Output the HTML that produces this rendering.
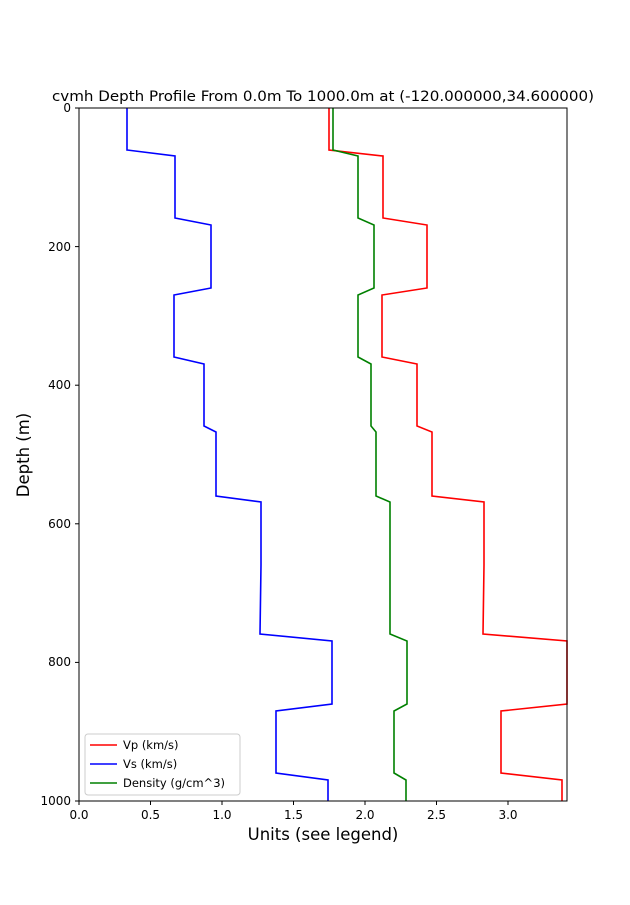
<!DOCTYPE html>
<html><head><meta charset="utf-8"><style>body{margin:0;background:#fff}</style></head><body>
<svg width="630" height="900" xmlns="http://www.w3.org/2000/svg" font-family="DejaVu Sans, Liberation Sans, sans-serif">
<rect width="630" height="900" fill="#fff"/>
<text x="323" y="101" font-size="14.5" text-anchor="middle" textLength="542" lengthAdjust="spacingAndGlyphs">cvmh Depth Profile From 0.0m To 1000.0m at (-120.000000,34.600000)</text>
<g fill="none" stroke-width="1.6">
<polyline stroke="#0000ff" points="127,108 127,150 175,156 175,218 211,225 211,288 174,295 174,357 204,364 204,426 216,432 216,496 261,502 261,565 260,634 332,641 332,704 276,711 276,773 328,780 328,801"/>
<polyline stroke="#ff0000" points="329,108 329,150 383,156 383,218 427,225 427,288 382,295 382,357 417,364 417,426 432,432 432,496 484,502 484,565 483,634 567,641 567,704 501,711 501,773 562,780 562,801"/>
<polyline stroke="#008000" points="333,108 333,150 358,156 358,218 374,225 374,288 358,295 358,357 371,364 371,426 376,432 376,496 390,502 390,634 407,641 407,704 394,711 394,773 406,780 406,801"/>
</g>
<rect x="79" y="108" width="488" height="693" fill="none" stroke="#000" stroke-width="1"/>
<g stroke="#000" stroke-width="1">
<line x1="79" y1="801" x2="79" y2="805"/><line x1="150.5" y1="801" x2="150.5" y2="805"/><line x1="222" y1="801" x2="222" y2="805"/><line x1="293.5" y1="801" x2="293.5" y2="805"/><line x1="365" y1="801" x2="365" y2="805"/><line x1="436.5" y1="801" x2="436.5" y2="805"/><line x1="508" y1="801" x2="508" y2="805"/>
<line x1="75" y1="108" x2="79" y2="108"/><line x1="75" y1="246.6" x2="79" y2="246.6"/><line x1="75" y1="385.2" x2="79" y2="385.2"/><line x1="75" y1="523.8" x2="79" y2="523.8"/><line x1="75" y1="662.4" x2="79" y2="662.4"/><line x1="75" y1="801" x2="79" y2="801"/>
</g>
<g font-size="12" text-anchor="middle">
<text x="79" y="819">0.0</text><text x="150.5" y="819">0.5</text><text x="222" y="819">1.0</text><text x="293.5" y="819">1.5</text><text x="365" y="819">2.0</text><text x="436.5" y="819">2.5</text><text x="508" y="819">3.0</text>
</g>
<g font-size="12" text-anchor="end">
<text x="71" y="112">0</text><text x="71" y="251">200</text><text x="71" y="389">400</text><text x="71" y="528">600</text><text x="71" y="666">800</text><text x="71" y="805">1000</text>
</g>
<text x="323" y="840" font-size="16.5" text-anchor="middle">Units (see legend)</text>
<text transform="translate(29,455) rotate(-90)" font-size="16.5" text-anchor="middle">Depth (m)</text>
<rect x="85" y="734" width="155" height="61" fill="#fff" stroke="#ccc" rx="3"/>
<g stroke-width="1.6"><line x1="90" y1="745" x2="117" y2="745" stroke="#ff0000"/><line x1="90" y1="764" x2="117" y2="764" stroke="#0000ff"/><line x1="90" y1="783" x2="117" y2="783" stroke="#008000"/></g>
<g font-size="11.5"><text x="123" y="749">Vp (km/s)</text><text x="123" y="768">Vs (km/s)</text><text x="123" y="787">Density (g/cm^3)</text></g>
</svg>
</body></html>
